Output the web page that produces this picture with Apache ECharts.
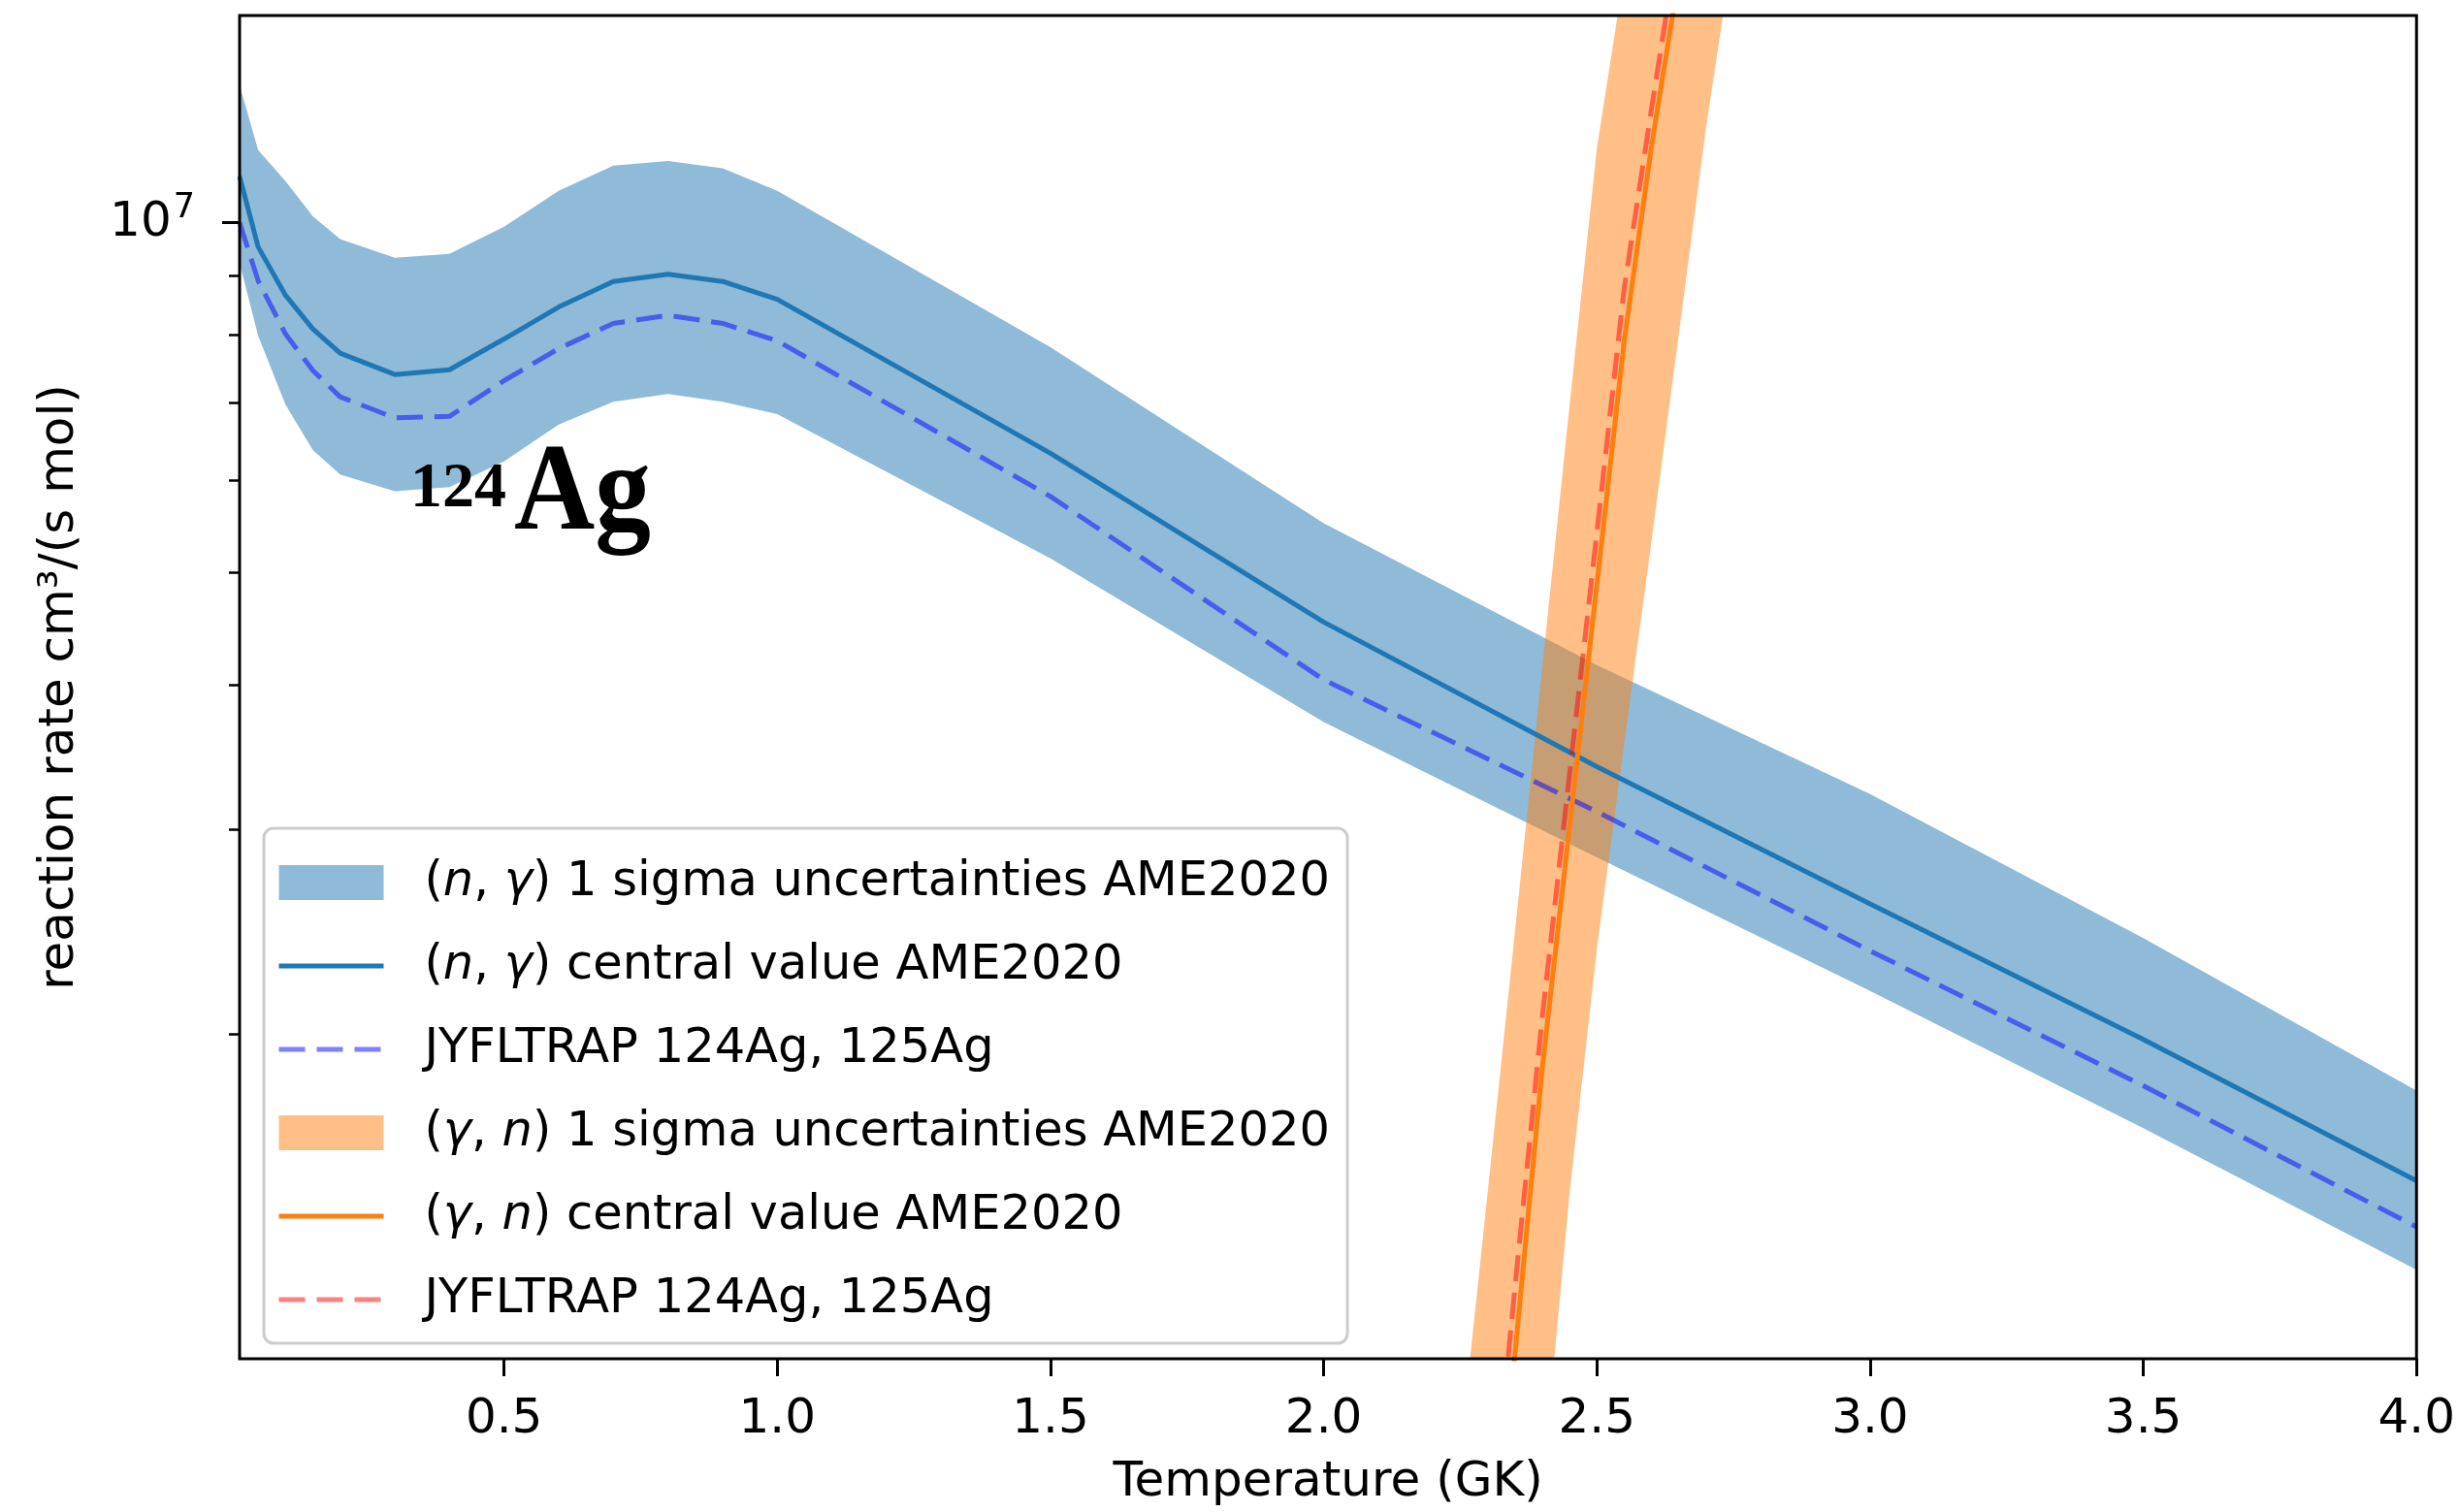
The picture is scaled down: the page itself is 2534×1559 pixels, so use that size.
<!DOCTYPE html>
<html>
<head>
<meta charset="utf-8">
<script src="https://cdn.jsdelivr.net/npm/echarts@6/dist/echarts.min.js"></script>
<style>
  html, body { margin: 0; padding: 0; background: #ffffff; }
  #chart { width: 2534px; height: 1559px; }
</style>
</head>
<body>
<div id="chart"></div>
<script>
// ---- (n,gamma) rates on the coarse temperature grid (GK) ----
const T_NG = [0.016, 0.05, 0.1, 0.15, 0.2, 0.3, 0.4, 0.5, 0.6, 0.7, 0.8, 0.9, 1.0, 1.5, 2.0, 2.5, 3.0, 3.5, 4.0];
const NG_CENTRAL = [1.096e7, 9.53e6, 8.66e6, 8.10e6, 7.72e6, 7.40e6, 7.47e6, 7.94e6, 8.46e6, 8.90e6, 9.03e6, 8.90e6, 8.59e6, 6.33e6, 4.53e6, 3.40e6, 2.59e6, 1.98e6, 1.496e6];
const NG_UPPER   = [1.313e7, 1.155e7, 1.086e7, 1.013e7, 9.68e6, 9.33e6, 9.40e6, 9.92e6, 1.065e7, 1.12e7, 1.13e7, 1.114e7, 1.065e7, 7.81e6, 5.51e6, 4.16e6, 3.22e6, 2.42e6, 1.789e6];
const NG_LOWER   = [9.23e6, 7.99e6, 6.97e6, 6.37e6, 6.07e6, 5.87e6, 5.92e6, 6.23e6, 6.70e6, 7.01e6, 7.12e6, 7.01e6, 6.84e6, 5.14e6, 3.715e6, 2.84e6, 2.18e6, 1.66e6, 1.254e6];
const NG_JYFL    = [1.0e7, 8.91e6, 8.02e6, 7.46e6, 7.08e6, 6.79e6, 6.81e6, 7.31e6, 7.79e6, 8.19e6, 8.32e6, 8.19e6, 7.91e6, 5.81e6, 4.04e6, 3.11e6, 2.36e6, 1.806e6, 1.365e6];

// ---- (gamma,n) rates around the steep rise ----
const T_GN = [2.25, 2.30, 2.35, 2.40, 2.45, 2.50, 2.55, 2.60, 2.65, 2.70, 2.75];
const GN_CENTRAL = [3.53e5, 6.21e5, 1.06e6, 1.87e6, 3.02e6, 4.88e6, 7.91e6, 1.164e7, 1.63e7, 2.27e7, 3.1e7];
const GN_UPPER   = [8.76e5, 1.46e6, 2.45e6, 4.14e6, 6.96e6, 1.16e7, 1.64e7, 2.29e7, 3.1e7, 4.2e7, 5.6e7];
const GN_LOWER   = [1.4e5, 2.5e5, 4.5e5, 8.11e5, 1.46e6, 2.37e6, 3.56e6, 5.32e6, 8.02e6, 1.21e7, 1.73e7];
const GN_JYFL    = [4.0e5, 6.98e5, 1.21e6, 2.07e6, 3.35e6, 5.41e6, 8.78e6, 1.254e7, 1.77e7, 2.47e7, 3.4e7];

// ---- axes ----
const X_MIN = 0.016, X_MAX = 4.0;
const X_TICKS = [0.5, 1.0, 1.5, 2.0, 2.5, 3.0, 3.5, 4.0];
const Y_MIN = 1.051e6, Y_MAX = 1.508e7;
const Y_MAJOR = [1e7];
const Y_MINOR = [2e6, 3e6, 4e6, 5e6, 6e6, 7e6, 8e6, 9e6];

const FONT = 'DejaVu Sans';
const LEGEND_FONT_SIZE = 49.5;
const LEGEND_LABELS = {
  band_ng:    '{r|(}{i|n}{r|, }{i|γ}{r|) 1 sigma uncertainties AME2020}',
  central_ng: '{r|(}{i|n}{r|, }{i|γ}{r|) central value AME2020}',
  jyfl_ng:    '{r|JYFLTRAP 124Ag, 125Ag}',
  band_gn:    '{r|(}{i|γ}{r|, }{i|n}{r|) 1 sigma uncertainties AME2020}',
  central_gn: '{r|(}{i|γ}{r|, }{i|n}{r|) central value AME2020}',
  jyfl_gn:    '{r|JYFLTRAP 124Ag, 125Ag}'
};

function pairs(xs, ys) { return xs.map((x, i) => [x, ys[i]]); }

// power-of-ten tick text, e.g. 1e7 -> 10 with a raised 7
function powerLabel(v) {
  const e = Math.round(Math.log10(v));
  return '{b|10}{e|' + e + '}';
}

// filled uncertainty band: one polygon along the upper edge and back along the lower edge
function bandSeries(name, T, lo, hi, color) {
  return {
    type: 'custom', name: name, z: 1,
    itemStyle: { color: color },
    data: T.map((t, i) => [t, lo[i], hi[i]]),
    encode: { x: 0, y: [1, 2] },
    renderItem: function (params, api) {
      if (params.dataIndex !== 0) return null;
      const pts = [];
      for (let i = 0; i < T.length; i++) pts.push(api.coord([T[i], hi[i]]));
      for (let i = T.length - 1; i >= 0; i--) pts.push(api.coord([T[i], lo[i]]));
      const cs = params.coordSys;
      return {
        type: 'polygon',
        shape: { points: pts },
        style: { fill: color, stroke: null },
        clipPath: { type: 'rect', shape: { x: cs.x, y: cs.y, width: cs.width, height: cs.height } }
      };
    }
  };
}

function lineSeries(name, T, v, color, width, dash) {
  return {
    type: 'line', name: name, z: 2,
    data: pairs(T, v),
    symbol: 'none', showSymbol: false, clip: true, silent: true,
    color: color,
    lineStyle: { color: color, width: width, type: dash || 'solid', cap: 'butt' }
  };
}

const chart = echarts.init(document.getElementById('chart'), null, { renderer: 'canvas' });

const lineItem = (n) => ({ name: n, itemStyle: { opacity: 0 } });

chart.setOption({
  animation: false,
  backgroundColor: '#ffffff',
  grid: {
    left: 247, top: 16, right: 38, bottom: 155,
    show: true, borderColor: '#000000', borderWidth: 3, backgroundColor: 'transparent', z: 10
  },
  xAxis: {
    type: 'value', min: X_MIN, max: X_MAX, z: 10,
    name: 'Temperature (GK)', nameLocation: 'middle', nameGap: 103,
    nameTextStyle: { fontFamily: FONT, fontSize: 50, color: '#000' },
    axisLine: { show: false },
    splitLine: { show: false },
    axisTick: { show: true, customValues: X_TICKS, length: 18, lineStyle: { color: '#000', width: 3 } },
    axisLabel: {
      customValues: X_TICKS, margin: 38, fontFamily: FONT, fontSize: 50, color: '#000',
      formatter: (v) => Number(v).toFixed(1)
    }
  },
  yAxis: [
    {
      type: 'log', logBase: 10, min: Y_MIN, max: Y_MAX, z: 10,
      name: 'reaction rate cm³/(s mol)', nameLocation: 'middle', nameGap: 160,
      nameTextStyle: { fontFamily: FONT, fontSize: 50, color: '#000' },
      axisLine: { show: false },
      splitLine: { show: false },
      minorTick: { show: false },
      axisTick: { show: true, customValues: Y_MAJOR, length: 18, lineStyle: { color: '#000', width: 3 } },
      axisLabel: {
        customValues: Y_MAJOR, margin: 46, color: '#000',
        formatter: powerLabel,
        rich: {
          b: { fontFamily: FONT, fontSize: 50, lineHeight: 50, color: '#000' },
          e: { fontFamily: FONT, fontSize: 35, lineHeight: 35, padding: [0, 0, 30, 2], color: '#000' }
        }
      }
    },
    {
      type: 'log', logBase: 10, min: Y_MIN, max: Y_MAX, position: 'left', z: 10,
      axisLine: { show: false },
      splitLine: { show: false },
      axisLabel: { show: false },
      axisTick: { show: true, customValues: Y_MINOR, length: 11, lineStyle: { color: '#000', width: 2.5 } }
    }
  ],
  legend: {
    orient: 'vertical', left: 272, top: 854,
    padding: [31, 18, 20, 13],
    itemWidth: 108, itemHeight: 36, itemGap: 36,
    backgroundColor: 'rgba(255,255,255,0.8)', borderColor: '#cccccc', borderWidth: 3, borderRadius: 10,
    selectedMode: false,
    lineStyle: { width: 'inherit' },
    data: [
      { name: 'band_ng', icon: 'rect' },
      lineItem('central_ng'),
      lineItem('jyfl_ng'),
      { name: 'band_gn', icon: 'rect' },
      lineItem('central_gn'),
      lineItem('jyfl_gn')
    ],
    formatter: (n) => LEGEND_LABELS[n],
    textStyle: {
      fontFamily: FONT, fontSize: LEGEND_FONT_SIZE, color: '#000', padding: [0, 0, 0, 37],
      rich: {
        r: { fontFamily: FONT, fontSize: LEGEND_FONT_SIZE, lineHeight: 60, color: '#000' },
        i: { fontFamily: FONT, fontSize: LEGEND_FONT_SIZE, lineHeight: 60, color: '#000', fontStyle: 'italic' }
      }
    }
  },
  graphic: [
    {
      type: 'text', x: 423, y: 505, z: 20,
      style: { text: '124', fontFamily: 'Liberation Serif', fontWeight: 'bold', fontSize: 66, fill: '#000', align: 'left', verticalAlign: 'middle' }
    },
    {
      type: 'text', x: 530, y: 512, z: 20, scaleX: 0.9,
      style: { text: 'Ag', fontFamily: 'Liberation Serif', fontWeight: 'bold', fontSize: 128, fill: '#000', align: 'left', verticalAlign: 'middle' }
    }
  ],
  series: [
    bandSeries('band_ng', T_NG, NG_LOWER, NG_UPPER, 'rgba(31,119,180,0.5)'),
    lineSeries('central_ng', T_NG, NG_CENTRAL, '#1f77b4', 5),
    lineSeries('jyfl_ng', T_NG, NG_JYFL, 'rgba(0,0,255,0.5)', 5, [27, 12]),
    bandSeries('band_gn', T_GN, GN_LOWER, GN_UPPER, 'rgba(255,127,14,0.5)'),
    lineSeries('central_gn', T_GN, GN_CENTRAL, '#ff7f0e', 5),
    lineSeries('jyfl_gn', T_GN, GN_JYFL, 'rgba(255,0,0,0.5)', 5, [27, 12])
  ]
});
</script>
</body>
</html>
